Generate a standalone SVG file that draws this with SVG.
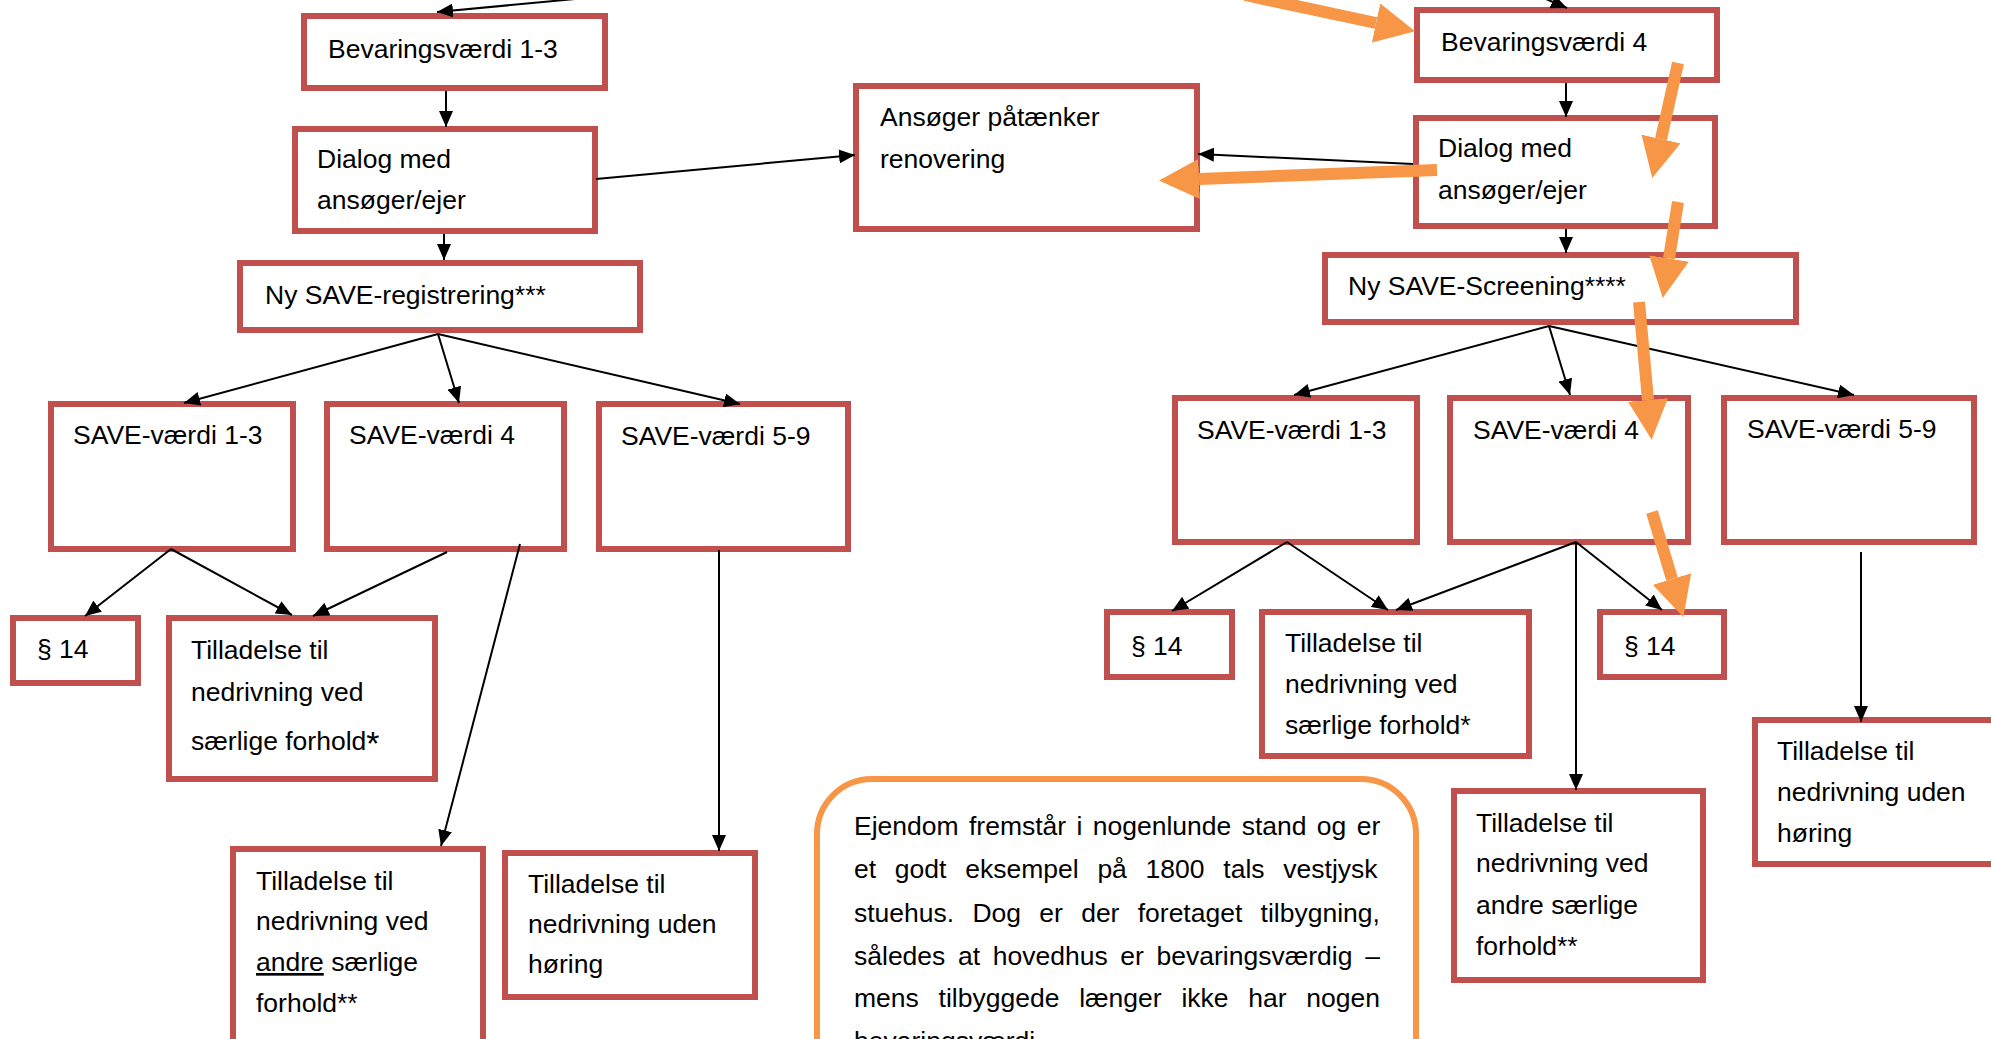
<svg xmlns="http://www.w3.org/2000/svg" width="1991" height="1039" viewBox="0 0 1991 1039">
  <style>
    .box { fill: #ffffff; stroke: #C0504D; stroke-width: 6; }
    .note { fill: #ffffff; stroke: #F79646; stroke-width: 6; }
    .lbl { font-family: "Liberation Sans", Arial, sans-serif; font-size: 26.5px; fill: #000000; }
    .conn { stroke: #000000; stroke-width: 2; fill: none; marker-end: url(#ah); }
    .hl { stroke: #F79646; stroke-width: 12; fill: none; marker-end: url(#oh); }
  </style>
  <defs>
    <marker id="ah" markerUnits="userSpaceOnUse" viewBox="0 0 16 14" markerWidth="16" markerHeight="14" refX="16" refY="7" orient="auto">
      <path d="M0,0 L16,7 L0,14 z" fill="#000000"/>
    </marker>
    <marker id="oh" markerUnits="userSpaceOnUse" viewBox="0 0 40 40" markerWidth="40" markerHeight="40" refX="0" refY="20" orient="auto">
      <path d="M0,0 L40,20 L0,40 z" fill="#F79646"/>
    </marker>
  </defs>

  <rect x="0" y="0" width="1991" height="1039" fill="#ffffff"/>

  <!-- left branch -->
  <g id="bev13">
    <rect class="box" x="304" y="16" width="301" height="72"/>
    <text class="lbl" x="328" y="58">Bevaringsværdi 1-3</text>
  </g>
  <g id="dialog-left">
    <rect class="box" x="295" y="129" width="300" height="102"/>
    <text class="lbl" x="317" y="168">Dialog med</text>
    <text class="lbl" x="317" y="209">ansøger/ejer</text>
  </g>
  <g id="save-registrering">
    <rect class="box" x="240" y="263" width="400" height="67"/>
    <text class="lbl" x="265" y="304">Ny SAVE-registrering***</text>
  </g>
  <g id="ansoger">
    <rect class="box" x="856" y="86" width="341" height="143"/>
    <text class="lbl" x="880" y="126">Ansøger påtænker</text>
    <text class="lbl" x="880" y="168">renovering</text>
  </g>
  <g id="save13-left">
    <rect class="box" x="51" y="404" width="242" height="145"/>
    <text class="lbl" x="73" y="444">SAVE-værdi 1-3</text>
  </g>
  <g id="save4-left">
    <rect class="box" x="327" y="404" width="237" height="145"/>
    <text class="lbl" x="349" y="444">SAVE-værdi 4</text>
  </g>
  <g id="save59-left">
    <rect class="box" x="599" y="404" width="249" height="145"/>
    <text class="lbl" x="621" y="445">SAVE-værdi 5-9</text>
  </g>
  <g id="p14-left">
    <rect class="box" x="13" y="618" width="125" height="65"/>
    <text class="lbl" x="37" y="658">§ 14</text>
  </g>
  <g id="saerlige-left">
    <rect class="box" x="169" y="618" width="266" height="161"/>
    <text class="lbl" x="191" y="659">Tilladelse til</text>
    <text class="lbl" x="191" y="701">nedrivning ved</text>
    <text class="lbl" x="191" y="750">særlige forhold<tspan font-size="34" dy="5">*</tspan></text>
  </g>
  <g id="andre-left">
    <rect class="box" x="233" y="849" width="250" height="200"/>
    <text class="lbl" x="256" y="890">Tilladelse til</text>
    <text class="lbl" x="256" y="930">nedrivning ved</text>
    <text class="lbl" x="256" y="971"><tspan text-decoration="underline">andre</tspan> særlige</text>
    <text class="lbl" x="256" y="1012">forhold**</text>
  </g>
  <g id="uden-left">
    <rect class="box" x="505" y="853" width="250" height="144"/>
    <text class="lbl" x="528" y="893">Tilladelse til</text>
    <text class="lbl" x="528" y="933">nedrivning uden</text>
    <text class="lbl" x="528" y="973">høring</text>
  </g>

  <!-- example note -->
  <g id="note">
    <rect class="note" x="817" y="779" width="599" height="320" rx="55" ry="55"/>
    <text class="lbl" x="854" y="835" word-spacing="3">Ejendom fremstår i nogenlunde stand og er</text>
    <text class="lbl" x="854" y="878" word-spacing="11.4">et godt eksempel på 1800 tals vestjysk</text>
    <text class="lbl" x="854" y="922" word-spacing="10.9">stuehus. Dog er der foretaget tilbygning,</text>
    <text class="lbl" x="854" y="965" word-spacing="5.3">således at hovedhus er bevaringsværdig –</text>
    <text class="lbl" x="854" y="1007" word-spacing="12.4">mens tilbyggede længer ikke har nogen</text>
    <text class="lbl" x="854" y="1050">bevaringsværdi.</text>
  </g>

  <!-- right branch -->
  <g id="bev4">
    <rect class="box" x="1417" y="10" width="300" height="70"/>
    <text class="lbl" x="1441" y="51">Bevaringsværdi 4</text>
  </g>
  <g id="dialog-right">
    <rect class="box" x="1416" y="118" width="299" height="108"/>
    <text class="lbl" x="1438" y="157">Dialog med</text>
    <text class="lbl" x="1438" y="199">ansøger/ejer</text>
  </g>
  <g id="save-screening">
    <rect class="box" x="1325" y="255" width="471" height="67"/>
    <text class="lbl" x="1348" y="295">Ny SAVE-Screening****</text>
  </g>
  <g id="save13-right">
    <rect class="box" x="1175" y="398" width="242" height="144"/>
    <text class="lbl" x="1197" y="439">SAVE-værdi 1-3</text>
  </g>
  <g id="save4-right">
    <rect class="box" x="1450" y="398" width="238" height="144"/>
    <text class="lbl" x="1473" y="439">SAVE-værdi 4</text>
  </g>
  <g id="save59-right">
    <rect class="box" x="1724" y="398" width="250" height="144"/>
    <text class="lbl" x="1747" y="438">SAVE-værdi 5-9</text>
  </g>
  <g id="p14-right-a">
    <rect class="box" x="1107" y="612" width="125" height="65"/>
    <text class="lbl" x="1131" y="655">§ 14</text>
  </g>
  <g id="saerlige-right">
    <rect class="box" x="1262" y="612" width="267" height="144"/>
    <text class="lbl" x="1285" y="652">Tilladelse til</text>
    <text class="lbl" x="1285" y="693">nedrivning ved</text>
    <text class="lbl" x="1285" y="734">særlige forhold*</text>
  </g>
  <g id="p14-right-b">
    <rect class="box" x="1600" y="612" width="124" height="65"/>
    <text class="lbl" x="1624" y="655">§ 14</text>
  </g>
  <g id="andre-right">
    <rect class="box" x="1454" y="791" width="249" height="189"/>
    <text class="lbl" x="1476" y="832">Tilladelse til</text>
    <text class="lbl" x="1476" y="872">nedrivning ved</text>
    <text class="lbl" x="1476" y="914">andre særlige</text>
    <text class="lbl" x="1476" y="955">forhold**</text>
  </g>
  <g id="uden-right">
    <rect class="box" x="1755" y="720" width="260" height="144"/>
    <text class="lbl" x="1777" y="760">Tilladelse til</text>
    <text class="lbl" x="1777" y="801">nedrivning uden</text>
    <text class="lbl" x="1777" y="842">høring</text>
  </g>

  <!-- connectors -->
  <g id="connectors">
    <line class="conn" x1="575" y1="-1" x2="437" y2="12"/>
    <line class="conn" x1="446" y1="91" x2="446" y2="127"/>
    <line class="conn" x1="444" y1="234" x2="444" y2="260"/>
    <line class="conn" x1="596" y1="179" x2="855" y2="155"/>
    <line class="conn" x1="438" y1="334" x2="184" y2="403"/>
    <line class="conn" x1="438" y1="334" x2="459" y2="403"/>
    <line class="conn" x1="438" y1="334" x2="740" y2="404"/>
    <line class="conn" x1="171" y1="549" x2="85" y2="616"/>
    <line class="conn" x1="171" y1="549" x2="292" y2="615"/>
    <line class="conn" x1="447" y1="552" x2="313" y2="616"/>
    <line class="conn" x1="520" y1="544" x2="441" y2="846"/>
    <line class="conn" x1="719" y1="550" x2="719" y2="851"/>

    <line class="conn" x1="1520" y1="-12" x2="1567" y2="8"/>
    <line class="conn" x1="1566" y1="83" x2="1566" y2="117"/>
    <line class="conn" x1="1566" y1="229" x2="1566" y2="253"/>
    <line class="conn" x1="1413" y1="164" x2="1198" y2="154"/>
    <line class="conn" x1="1549" y1="326" x2="1294" y2="395"/>
    <line class="conn" x1="1549" y1="326" x2="1570" y2="395"/>
    <line class="conn" x1="1549" y1="326" x2="1854" y2="395"/>
    <line class="conn" x1="1287" y1="542" x2="1172" y2="611"/>
    <line class="conn" x1="1287" y1="542" x2="1388" y2="610"/>
    <line class="conn" x1="1576" y1="542" x2="1396" y2="610"/>
    <line class="conn" x1="1576" y1="542" x2="1576" y2="790"/>
    <line class="conn" x1="1576" y1="542" x2="1662" y2="610"/>
    <line class="conn" x1="1861" y1="552" x2="1861" y2="722"/>
  </g>

  <!-- highlighted path -->
  <g id="highlight">
    <line class="hl" x1="1245" y1="-5" x2="1376" y2="23"/>
    <line class="hl" x1="1437" y1="170" x2="1199" y2="179"/>
    <line class="hl" x1="1678" y1="63" x2="1661" y2="139"/>
    <line class="hl" x1="1678" y1="202" x2="1669" y2="258.5"/>
    <line class="hl" x1="1639" y1="302" x2="1648" y2="400"/>
    <line class="hl" x1="1652" y1="512" x2="1672" y2="579"/>
  </g>
</svg>
